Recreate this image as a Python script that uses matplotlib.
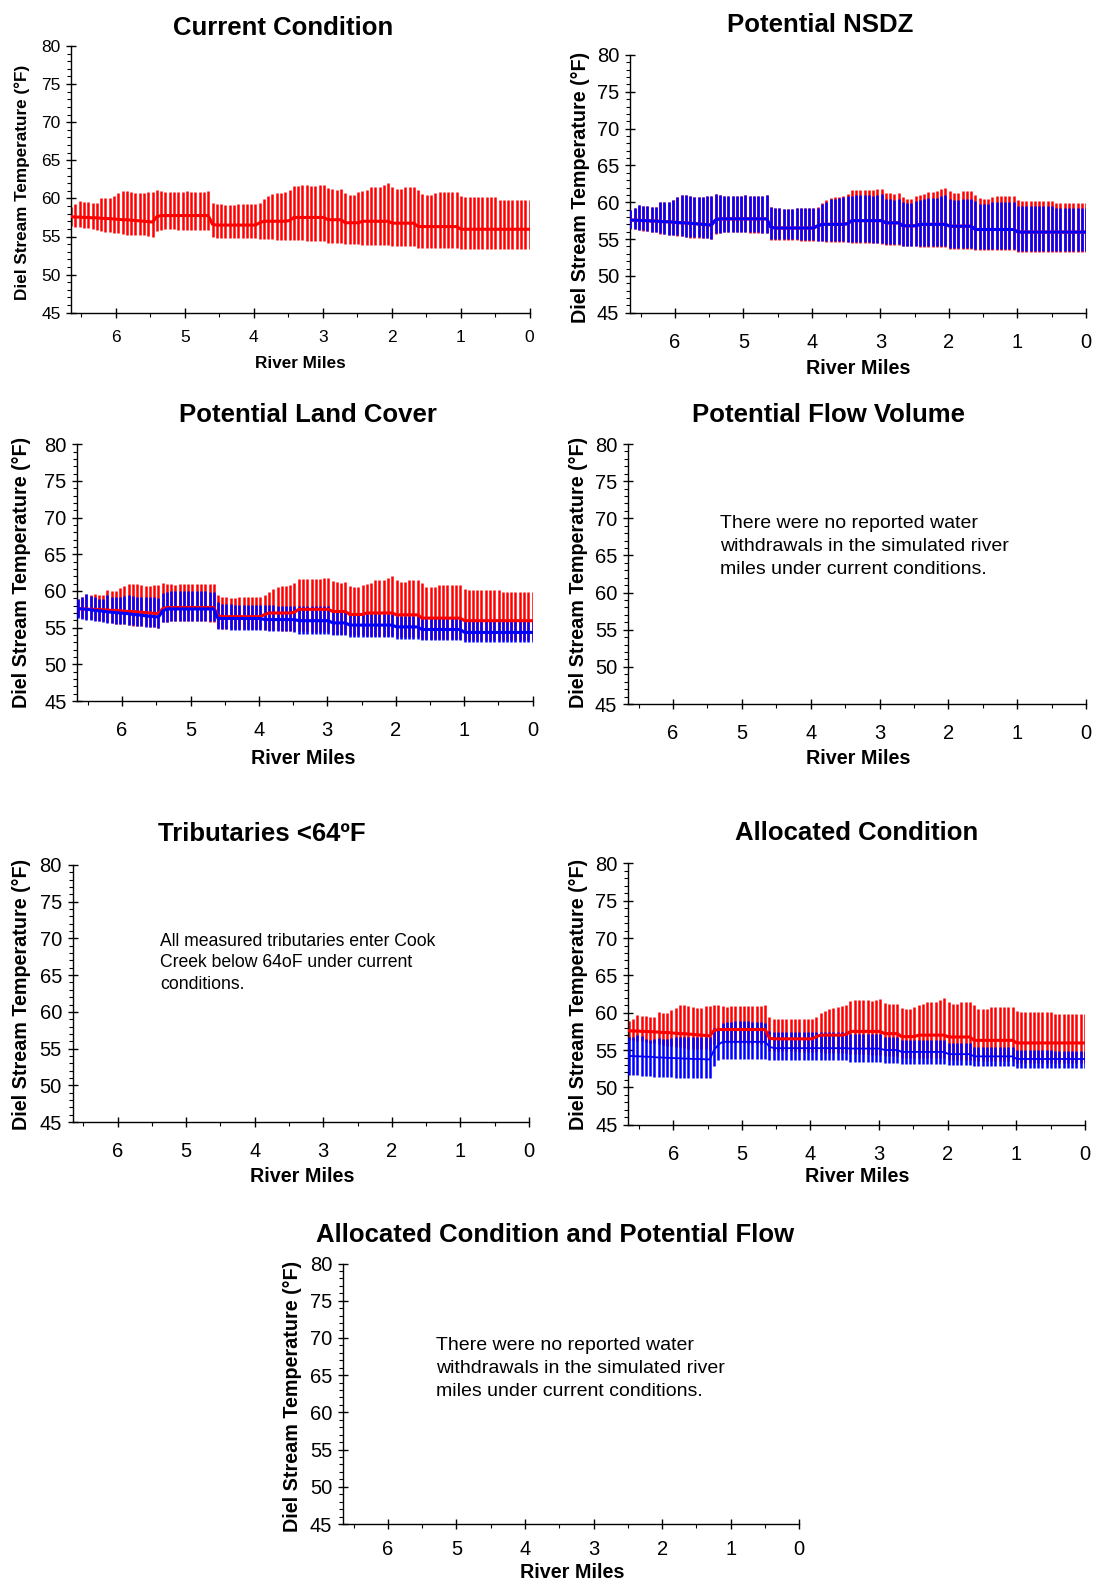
import numpy as np
import matplotlib
matplotlib.use("Agg")
import matplotlib.pyplot as plt
from matplotlib.ticker import MultipleLocator

plt.rcParams['font.family'] = ['Liberation Sans', 'DejaVu Sans']

W, H, DPI = 1094, 1583, 100

# Model nodes every 100 m, ordered from the upstream end (RM ~6.65) down to the mouth (RM 0)
N_NODES = 108
river_mile = np.round((N_NODES - 1 - np.arange(N_NODES)) * 0.0621371, 3)

# ---- Current condition (red): daily max / min / mean, degF ----
current_max = [58.9, 59.2, 59.65, 59.5, 59.55, 59.4, 59.4, 60.1, 60.0, 60.0,
               60.35, 60.65, 61.0, 61.0, 60.9, 60.75, 60.65, 60.65, 60.85, 60.85,
               61.1, 61.0, 60.9, 60.8, 60.9, 60.9, 60.9, 60.95, 60.9, 60.9,
               60.9, 60.9, 61.0, 59.4, 59.2, 59.2, 59.1, 59.1, 59.15, 59.2,
               59.2, 59.2, 59.2, 59.2, 59.4, 59.9, 60.25, 60.55, 60.65, 60.7,
               60.85, 61.1, 61.6, 61.65, 61.7, 61.7, 61.65, 61.6, 61.75, 61.8,
               61.3, 61.2, 61.15, 61.2, 60.65, 60.5, 60.5, 60.8, 61.0, 61.15,
               61.45, 61.45, 61.5, 61.75, 62.0, 61.5, 61.2, 61.2, 61.5, 61.5,
               61.5, 61.05, 60.55, 60.5, 60.5, 60.75, 60.8, 60.8, 60.8, 60.8,
               60.8] + [60.25] + [60.15] * 8 + [59.85] * 8
current_min = [56.4, 56.3, 56.2, 56.15, 56.1, 55.95, 55.9, 55.75, 55.65, 55.55,
               55.5, 55.45, 55.35, 55.25, 55.2, 55.2, 55.2, 55.15, 55.1, 55.0,
               55.75, 55.8, 55.95, 55.95, 55.95, 55.9, 55.9, 55.9, 55.85, 55.85,
               55.85, 55.8, 55.8, 54.9, 54.85, 54.85, 54.85, 54.85, 54.85, 54.85,
               54.8, 54.8, 54.8, 54.8, 54.7, 54.7, 54.65, 54.65, 54.6, 54.6,
               54.6, 54.55, 54.5, 54.5, 54.5, 54.45, 54.45, 54.4, 54.4, 54.35] \
    + [54.2] * 4 + [54.0] * 4 + [53.9] * 7 + [53.7] * 6 + [53.5] * 10 + [53.3] * 17
current_mean = [57.6, 57.55, 57.55, 57.5, 57.5, 57.45, 57.45, 57.4, 57.35, 57.35,
                57.3, 57.25, 57.2, 57.2, 57.15, 57.1, 57.05, 57.0, 56.95, 56.9,
                57.6] + [57.75] * 12 + [56.6] + [56.5] * 10 + [56.8] + [57.0] * 6 + [57.1] \
    + [57.5] * 8 + [57.2] * 4 + [56.8] * 4 + [57.0] * 7 + [56.75] * 6 + [56.3] * 10 + [55.95] * 17

# ---- Potential NSDZ (blue) ----
nsdz_max = [58.9, 59.2, 59.65, 59.5, 59.55, 59.4, 59.4, 60.1, 60.0, 60.0,
            60.35, 60.65, 61.0, 61.0, 60.9, 60.75, 60.65, 60.65, 60.85, 60.85,
            61.1, 61.0, 60.9, 60.8, 60.9, 60.9, 60.9, 60.95, 60.9, 60.9,
            60.9, 60.9, 61.0, 59.4, 59.2, 59.2, 59.1, 59.1, 59.15, 59.2,
            59.2, 59.2, 59.2, 59.2, 59.25, 59.75, 60.1, 60.4, 60.5, 60.55,
            60.7, 60.9, 60.9, 60.95, 61.0, 61.0, 60.95, 60.9, 61.05, 61.1,
            60.5, 60.4, 60.35, 60.4, 60.05, 59.9, 59.9, 60.2, 60.3, 60.4,
            60.6, 60.6, 60.6, 60.8, 61.0, 60.45, 60.3, 60.3, 60.5, 60.5,
            60.5, 60.2, 59.8, 59.75, 59.75, 60.0, 60.05, 60.05, 60.05, 60.05,
            60.05] + [59.55] * 9 + [59.25] * 8
nsdz_min = [56.45, 56.35, 56.25, 56.2, 56.15, 56.0, 55.95, 55.8, 55.7, 55.6,
            55.55, 55.5, 55.4, 55.3, 55.25, 55.25, 55.25, 55.2, 55.15, 55.05,
            55.8, 55.85, 56.0, 56.0, 56.0, 55.95, 55.95, 55.95, 55.9, 55.9,
            55.9, 55.85, 55.85, 55.0, 54.95, 54.95, 54.95, 54.95, 54.95, 54.95,
            54.9, 54.9, 54.9, 54.9, 54.8, 54.8, 54.75, 54.75, 54.7, 54.7,
            54.7, 54.65, 54.6, 54.6, 54.6, 54.55, 54.55, 54.5, 54.5, 54.45] \
    + [54.3] * 4 + [54.1] * 4 + [54.0] * 7 + [53.8] * 6 + [53.6] * 10 + [53.4] * 17
nsdz_mean = [57.6, 57.55, 57.55, 57.5, 57.5, 57.45, 57.45, 57.4, 57.35, 57.35,
             57.3, 57.25, 57.2, 57.2, 57.15, 57.1, 57.05, 57.0, 56.95, 56.9,
             57.6] + [57.75] * 12 + [56.6] + [56.5] * 10 + [56.8] + [57.0] * 6 + [57.1] \
    + [57.5] * 8 + [57.2] * 4 + [56.8] * 4 + [57.0] * 7 + [56.75] * 6 + [56.3] * 10 + [55.95] * 17

# ---- Potential land cover (blue) ----
landcover_max = [58.9, 59.15, 59.55, 59.35, 59.15, 58.85, 58.9, 59.45, 59.2, 59.15,
                 59.2, 59.35, 59.45, 59.3, 59.2, 59.15, 59.2, 59.2, 59.15, 59.1,
                 59.75, 59.8, 60.0, 60.0, 60.05, 60.05, 60.05, 60.0, 60.05, 60.0,
                 59.95, 59.9, 59.9, 58.45, 58.25, 58.2, 58.2, 58.15, 58.15, 58.1,
                 58.1, 58.1, 58.1, 58.1, 58.1, 58.05, 58.05, 58.0, 58.0, 58.0,
                 57.95, 57.95] + [57.9] * 8 + [57.45] * 4 + [56.9] * 11 + [56.6] * 6 \
    + [56.3] * 10 + [56.05] * 17
landcover_min = [56.3, 56.2, 56.1, 56.0, 55.95, 55.85, 55.8, 55.7, 55.6, 55.55,
                 55.5, 55.45, 55.35, 55.3, 55.25, 55.2, 55.15, 55.1, 55.05, 55.0,
                 55.75, 55.8] + [55.85] * 11 + [54.8, 54.75, 54.75] + [54.7] * 8 \
    + [54.65, 54.6, 54.6, 54.55, 54.55, 54.5, 54.5, 54.45] + [54.2] * 8 + [54.0] * 4 \
    + [53.75] * 11 + [53.5] * 6 + [53.25] * 10 + [53.05] * 17
landcover_mean = [57.6, 57.55, 57.5, 57.45, 57.35, 57.3, 57.25, 57.15, 57.1, 57.05,
                  57.0, 56.95, 56.9, 56.8, 56.75, 56.7, 56.6, 56.55, 56.5, 56.45,
                  57.3] + [57.55] * 12 + [56.25] * 11 + [56.1] * 8 + [55.95] * 8 \
    + [55.65] * 4 + [55.35] * 11 + [55.1] * 6 + [54.75] * 10 + [54.35] * 17

# ---- Allocated condition (blue) ----
allocated_max = [56.8, 56.7, 57.0, 56.9, 56.5, 56.4, 56.5, 56.55, 56.5, 56.5,
                 56.6, 56.7, 56.8, 56.7, 56.7, 56.75, 56.75, 56.8, 56.8, 56.8,
                 57.9, 58.0, 58.65, 58.8, 58.8, 58.85, 58.85, 58.85, 58.85, 58.75,
                 58.75, 58.7, 58.65, 57.5] + [57.45] * 10 + [57.35] * 8 + [57.2] * 8 \
    + [56.8] * 4 + [56.35] * 11 + [55.9] * 6 + [55.35] * 10 + [55.0] * 9 + [54.85] * 8
allocated_min = [51.7, 51.65, 51.6, 51.55, 51.5, 51.5, 51.45, 51.4, 51.4, 51.35,
                 51.35, 51.3, 51.3, 51.25, 51.25, 51.3, 51.3, 51.3, 51.3, 51.3,
                 52.9, 53.6] + [53.85] * 11 + [53.6] * 19 + [53.45] * 8 + [53.3] * 4 \
    + [53.15] * 11 + [53.0] * 6 + [52.85] * 10 + [52.65] * 17
allocated_mean = [54.2, 54.2, 54.15, 54.15, 54.1, 54.1, 54.05, 54.0, 54.0, 53.95,
                  53.95, 53.9, 53.9, 53.85, 53.85, 53.8, 53.8, 53.8, 53.75, 53.75,
                  55.0, 55.7] + [56.1] * 11 + [55.45] + [55.25] * 18 + [55.2] * 8 \
    + [55.0] * 4 + [54.75] * 11 + [54.45] * 6 + [54.15] * 10 + [53.8] * 17

YLABEL = "Diel Stream Temperature (°F)"
NO_WITHDRAWALS = ["There were no reported water",
                  "withdrawals in the simulated river",
                  "miles under current conditions."]
TRIB_NOTE = ["All measured tributaries enter Cook",
             "Creek below 64oF under current",
             "conditions."]

RED = "#ff0000"
BLUE = "#0000ff"

fig = plt.figure(figsize=(W / DPI, H / DPI), dpi=DPI)
fig.patch.set_facecolor("white")


def px_rect(left, right, top, bottom):
    return [left / W, 1 - bottom / H, (right - left) / W, (bottom - top) / H]


def ftext(x, y, s, **kw):
    fig.text(x / W, 1 - y / H, s, **kw)


def make_axes(box, tick_size, xpad, ypad):
    ax = fig.add_axes(px_rect(*box))
    ax.set_xlim(6.655, 0)
    ax.set_ylim(45, 80)
    ax.patch.set_visible(False)
    for s in ("top", "right"):
        ax.spines[s].set_visible(False)
    for s in ("left", "bottom"):
        ax.spines[s].set_linewidth(1.0)
    ax.xaxis.set_major_locator(MultipleLocator(1))
    ax.xaxis.set_minor_locator(MultipleLocator(0.5))
    ax.yaxis.set_major_locator(MultipleLocator(5))
    ax.yaxis.set_minor_locator(MultipleLocator(1))
    ax.tick_params(which="major", direction="inout", length=7.5, width=1.0,
                   labelsize=tick_size)
    ax.tick_params(which="minor", direction="out", length=3, width=0.8)
    ax.tick_params(axis="x", which="major", pad=xpad)
    ax.tick_params(axis="y", which="major", pad=ypad)
    return ax


def draw_series(ax, lo, hi, mean, color, mean_lw=2.2, z=2):
    ax.vlines(river_mile, lo, hi, colors=color, linewidth=1.8, zorder=z)
    ax.plot(river_mile, mean, color=color, linewidth=mean_lw, zorder=z + 3,
            solid_joinstyle="round")


def labels(title_xy, title, xl_xy, yl_xy, size, title_size=18.5):
    ftext(*title_xy, title, ha="center", va="center", fontsize=title_size,
          fontweight="bold")
    ftext(*xl_xy, "River Miles", ha="center", va="center", fontsize=size,
          fontweight="bold")
    ftext(*yl_xy, YLABEL, ha="center", va="center", fontsize=size,
          fontweight="bold", rotation=90)


# Current Condition
ax = make_axes((70.7, 529.5, 46, 312.7), 12.5, 9, 3.5)
draw_series(ax, current_min, current_max, current_mean, RED)
labels((283, 28), "Current Condition", (300, 364), (22, 182), 12.3)

# Potential NSDZ
ax = make_axes((630, 1086, 55, 312.7), 14.5, 11, 4)
draw_series(ax, current_min, current_max, current_mean, RED, z=2)
draw_series(ax, nsdz_min, nsdz_max, nsdz_mean, BLUE, z=3)
labels((820, 25), "Potential NSDZ", (858, 369), (580, 187), 14.2)

# Potential Land Cover
ax = make_axes((77.3, 532.5, 444.3, 701), 14.5, 11, 4)
draw_series(ax, current_min, current_max, current_mean, RED, z=2)
draw_series(ax, landcover_min, landcover_max, landcover_mean, BLUE, z=3)
labels((308, 415), "Potential Land Cover", (303, 758), (22, 572), 14.2)

# Potential Flow Volume
ax = make_axes((628, 1086, 444, 704), 14.5, 11, 4)
labels((828, 415), "Potential Flow Volume", (858, 758), (579, 572), 14.2)
for i, line in enumerate(NO_WITHDRAWALS):
    ftext(720, 523 + 23.2 * i, line, ha="left", va="center", fontsize=14)

# Tributaries
ax = make_axes((72.7, 529, 865, 1122), 14.5, 11, 4)
labels((262, 834), "Tributaries <64ºF", (302, 1176), (22, 994), 14.2)
for i, line in enumerate(TRIB_NOTE):
    ftext(160.5, 941 + 21.7 * i, line, ha="left", va="center", fontsize=12.7)

# Allocated Condition
ax = make_axes((628.3, 1085, 863.4, 1124.7), 14.5, 11, 4)
draw_series(ax, current_min, current_max, current_mean, RED, z=2)
draw_series(ax, allocated_min, allocated_max, allocated_mean, BLUE, mean_lw=1.3, z=3)
ax.lines[-1].set_zorder(4)
labels((857, 833), "Allocated Condition", (857, 1176), (579, 994), 14.2)

# Allocated Condition and Potential Flow
ax = make_axes((343, 799.3, 1263.5, 1524), 14.5, 8, 4)
labels((555, 1235), "Allocated Condition and Potential Flow", (572, 1572), (293, 1396), 14.2)
for i, line in enumerate(NO_WITHDRAWALS):
    ftext(436, 1345 + 23.2 * i, line, ha="left", va="center", fontsize=14)

fig.savefig("out.png", dpi=DPI, facecolor="white")
